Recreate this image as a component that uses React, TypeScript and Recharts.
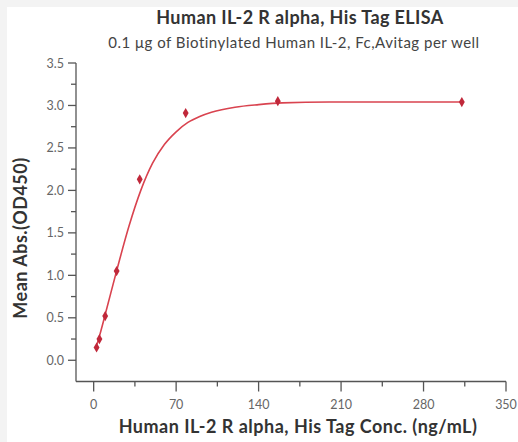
import { ComposedChart, Line, Scatter, XAxis, YAxis, ZAxis } from "recharts";

// measured points (conc ng/mL, OD450)
const concentrations = [2.44, 4.88, 9.77, 19.5, 39.1, 78.1, 156.3, 312.5];
const absorbance = [0.15, 0.25, 0.52, 1.05, 2.13, 2.91, 3.05, 3.04];

// fitted curve
const fitConc = [2.44, 5, 10, 20, 30, 40, 50, 60, 70, 80, 90, 100, 120, 140, 160, 200, 250, 312.5];
const fitAbs = [0.17, 0.29, 0.55, 1.08, 1.58, 2.0, 2.32, 2.54, 2.69, 2.8, 2.87, 2.92, 2.98, 3.01, 3.03, 3.04, 3.04, 3.04];

const xTicks = [0, 35, 70, 105, 140, 175, 210, 245, 280, 315, 350];
const yTicks = [0, 0.25, 0.5, 0.75, 1, 1.25, 1.5, 1.75, 2, 2.25, 2.5, 2.75, 3, 3.25, 3.5];

const X_TICK = 10;
const X_MARGIN = 8;
const Y_TICK = 8;
const Y_MARGIN = 4;
const FONT = "Lato, 'Open Sans', sans-serif";

const points = concentrations.map((c, i) => ({ x: c, y: absorbance[i] }));
const fit = fitConc.map((c, i) => ({ x: c, y: fitAbs[i] }));

const XTick = (props: any) => {
  const { x, y, payload } = props;
  const major = payload.value % 70 === 0;
  const y0 = y - X_MARGIN - X_TICK;
  return (
    <g>
      <line x1={x} x2={x} y1={y0} y2={y0 + (major ? X_TICK : 5)} stroke="#555" strokeWidth={1.3} />
      {major && (
        <text x={x} y={y} dy="0.72em" textAnchor="middle" fontSize={12.5} fill="#666" fontFamily={FONT}>
          {payload.value}
        </text>
      )}
    </g>
  );
};

const YTick = (props: any) => {
  const { x, y, payload } = props;
  const major = Math.abs((payload.value * 2) % 1) < 1e-6;
  const x0 = x + Y_MARGIN + Y_TICK;
  return (
    <g>
      <line x1={x0} x2={x0 - (major ? Y_TICK : 5)} y1={y} y2={y} stroke="#555" strokeWidth={1.3} />
      {major && (
        <text x={x} y={y} dy="0.36em" textAnchor="end" fontSize={12.5} fill="#666" fontFamily={FONT}>
          {payload.value.toFixed(1)}
        </text>
      )}
    </g>
  );
};

export default function App() {
  return (
    <div style={{ position: "absolute", left: 0, top: 0, width: 518, height: 442, background: "#f3f3f3" }}>
      <div style={{ position: "absolute", left: 7, top: 7, width: 511, height: 435, background: "#fff" }} />
      <div style={{ position: "absolute", left: 0, top: 0 }}>
        <ComposedChart width={518} height={442} margin={{ top: 63, right: 12, bottom: 20.5, left: 0 }}>
          <XAxis
            type="number"
            dataKey="x"
            domain={[-15, 350]}
            ticks={xTicks}
            interval={0}
            allowDataOverflow
            tickLine={false}
            tickSize={X_TICK}
            tickMargin={X_MARGIN}
            tick={<XTick />}
            stroke="#555"
            strokeWidth={1.3}
            height={40}
          />
          <YAxis
            type="number"
            dataKey="y"
            domain={[-0.25, 3.5]}
            ticks={yTicks}
            interval={0}
            allowDataOverflow
            tickLine={false}
            tickSize={Y_TICK}
            tickMargin={Y_MARGIN}
            tick={<YTick />}
            stroke="#555"
            strokeWidth={1.3}
            width={76}
          />
          <ZAxis range={[30, 30]} />
          <Line
            data={fit}
            dataKey="y"
            type="monotone"
            stroke="#d9434f"
            strokeWidth={1.6}
            dot={false}
            isAnimationActive={false}
          />
          <Scatter data={points} dataKey="y" fill="#c0283a" shape="diamond" isAnimationActive={false} />
        </ComposedChart>
      </div>
      <div
        style={{
          position: "absolute",
          left: 0,
          width: 600,
          top: 6,
          textAlign: "center",
          fontFamily: FONT,
          fontWeight: 700,
          fontSize: 18,
          letterSpacing: 0.4,
          color: "#333",
        }}
      >
        Human IL-2 R alpha, His Tag ELISA
      </div>
      <div
        style={{
          position: "absolute",
          left: 0,
          width: 588,
          top: 33,
          textAlign: "center",
          fontFamily: FONT,
          fontSize: 15,
          letterSpacing: 0.5,
          color: "#444",
        }}
      >
        0.1 μg of Biotinylated Human IL-2, Fc,Avitag per well
      </div>
      <div
        style={{
          position: "absolute",
          left: 0,
          width: 596,
          top: 415,
          textAlign: "center",
          fontFamily: FONT,
          fontWeight: 700,
          fontSize: 18,
          letterSpacing: 0.5,
          color: "#333",
        }}
      >
        Human IL-2 R alpha, His Tag Conc. (ng/mL)
      </div>
      <div
        style={{
          position: "absolute",
          left: 20,
          top: 238,
          transform: "translate(-50%, -50%) rotate(-90deg)",
          whiteSpace: "nowrap",
          fontFamily: FONT,
          fontWeight: 700,
          fontSize: 18,
          letterSpacing: 0.5,
          color: "#333",
        }}
      >
        Mean Abs.(OD450)
      </div>
    </div>
  );
}
